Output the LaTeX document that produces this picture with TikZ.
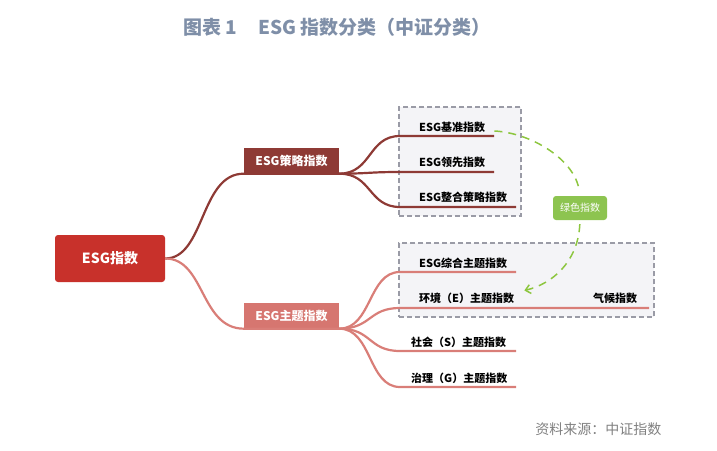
\documentclass[tikz,border=0pt]{standalone}
\usepackage{fontspec}
\setmainfont{Noto Sans CJK SC}
\usepackage{xcolor}
\usepackage{tikz}
\usetikzlibrary{arrows.meta}
\definecolor{rootred}{HTML}{C8312B}
\definecolor{stratred}{HTML}{8E3A35}
\definecolor{themered}{HTML}{D67670}
\definecolor{themeline}{HTML}{D97E78}
\definecolor{tagbg}{HTML}{8DC450}
\definecolor{tagline}{HTML}{8DC63F}
\definecolor{titleblue}{HTML}{7F8FA8}
\definecolor{groupbg}{HTML}{F4F4F7}
\definecolor{groupline}{HTML}{9A9BA6}
\tikzset{every picture/.style={x=1pt,y=-1pt},
  rootbox/.style={rectangle, rounded corners=3pt, fill=rootred, text=white, font=\fontsize{14}{16}\selectfont\bfseries, minimum width=110pt, minimum height=47pt},
  branchbox/.style={rectangle, text=white, font=\fontsize{12}{14}\selectfont\bfseries, minimum width=95pt, minimum height=26pt},
  groupbox/.style={rectangle, draw=groupline, fill=groupbg, dash pattern=on 5pt off 3pt, line width=1.2pt},
  leaf/.style={anchor=west, inner sep=1pt, font=\fontsize{11}{13}\selectfont\bfseries},
  tagbox/.style={rectangle, rounded corners=3pt, fill=tagbg, text=white, font=\fontsize{10}{12}\selectfont, minimum width=54pt, minimum height=24pt},
  stratline/.style={draw=stratred, line width=2.2pt},
  themeline/.style={draw=themeline, line width=2.2pt},
  greendash/.style={draw=tagline, line width=1.5pt, dash pattern=on 8pt off 6pt}}

\begin{document}
\begin{tikzpicture}
  \useasboundingbox (0,0) rectangle (717,450);

  \node[font=\fontsize{19}{22}\selectfont\bfseries, text=titleblue] (title) at (337,27) {图表 1\hspace{1.1em}ESG 指数分类（中证分类）};

  \node[groupbox, minimum width=122pt, minimum height=109pt] (g1) at (460,161.5) {};
  \node[groupbox, minimum width=255pt, minimum height=74pt] (g2) at (526.5,280) {};

  \node[rootbox] (v0) at (110,258.5) {ESG指数};
  \node[branchbox, fill=stratred] (v1) at (291.5,160.5) {ESG策略指数};
  \node[branchbox, fill=themered] (v2) at (291.5,315.5) {ESG主题指数};

  \coordinate (a1) at (400,136); \coordinate (b1) at (494,136);
  \coordinate (a2) at (400,172); \coordinate (b2) at (494,172);
  \coordinate (a3) at (400,207); \coordinate (b3) at (516,207);
  \coordinate (a4) at (400,272); \coordinate (b4) at (516,272);
  \coordinate (a5) at (400,308); \coordinate (b5) at (649,308);
  \coordinate (a6) at (400,351); \coordinate (b6) at (516,351);
  \coordinate (a7) at (400,387); \coordinate (b7) at (516,387);

  \node[leaf] (k1) at (418,127) {ESG基准指数};
  \node[leaf] (k2) at (418,162) {ESG领先指数};
  \node[leaf] (k3) at (418,197) {ESG整合策略指数};
  \node[leaf] (k4) at (418,263) {ESG综合主题指数};
  \node[leaf] (k5) at (418,298) {环境（E）主题指数};
  \node[leaf] (k8) at (592,298) {气候指数};
  \node[leaf] (k6) at (410,342) {社会（S）主题指数};
  \node[leaf] (k7) at (410,378) {治理（G）主题指数};

  \node[tagbox] (tag) at (580,208) {绿色指数};

  \draw[stratline](v0.east) .. controls (205,258.5) and (200,173.5) .. (v1.south west) -- (v1.south east);
  \draw[themeline](v0.east) .. controls (205,258.5) and (200,328.5) .. (v2.south west) -- (v2.south east);

  \draw[stratline](v1.south east) .. controls (372,173.5) and (368,136) .. (a1) -- (b1);
  \draw[stratline](v1.south east) .. controls (372,173.5) and (368,172) .. (a2) -- (b2);
  \draw[stratline](v1.south east) .. controls (372,173.5) and (368,207) .. (a3) -- (b3);

  \draw[themeline](v2.south east) .. controls (372,328.5) and (368,272) .. (a4) -- (b4);
  \draw[themeline](v2.south east) .. controls (372,328.5) and (368,308) .. (a5) -- (b5);
  \draw[themeline](v2.south east) .. controls (372,328.5) and (368,351) .. (a6) -- (b6);
  \draw[themeline](v2.south east) .. controls (372,328.5) and (368,387) .. (a7) -- (b7);

  \draw[greendash, shorten >=5pt]([xshift=8pt,yshift=-4pt]k1.east) .. controls (532,133) and (575,160) .. (tag.north);
  \draw[greendash, shorten <=4pt, -{Straight Barb[length=5pt,width=9pt]}](tag.south) .. controls (578,262) and (552,284) .. ([xshift=9pt,yshift=1pt]k5.north east);

  \node[anchor=east, font=\fontsize{14}{16}\selectfont, text=black!50] (src) at (665,429) {资料来源：中证指数};
\end{tikzpicture}
\end{document}
